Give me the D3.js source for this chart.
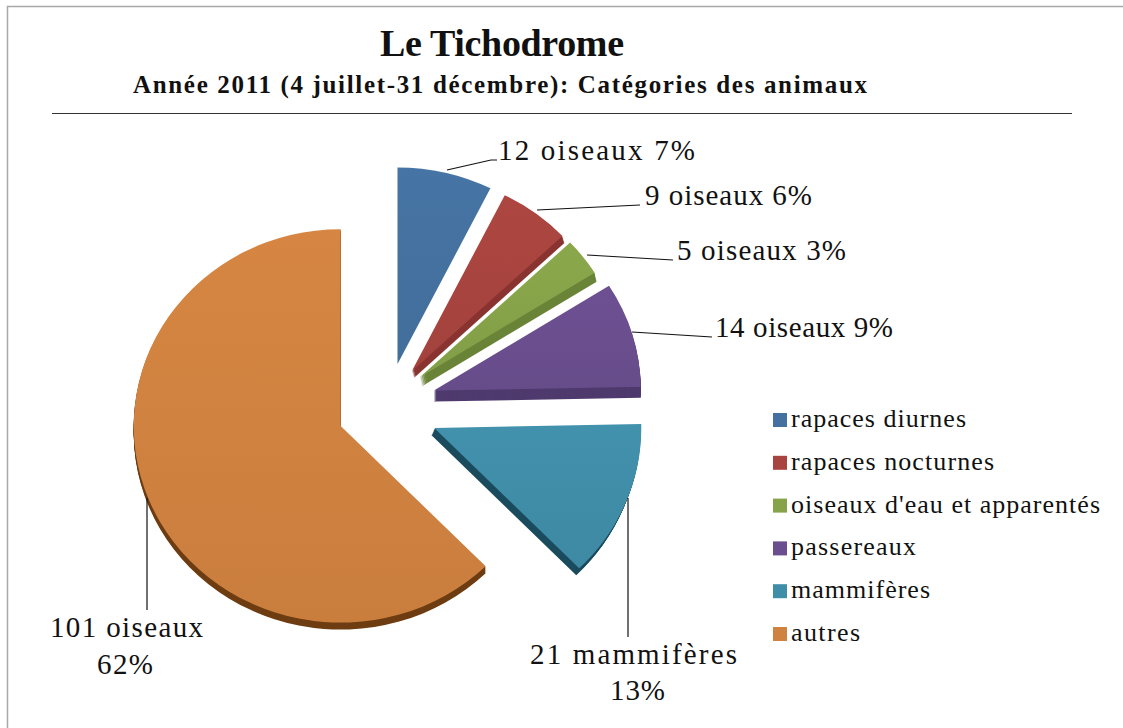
<!DOCTYPE html>
<html><head><meta charset="utf-8">
<script src="https://cdnjs.cloudflare.com/ajax/libs/d3/7.8.5/d3.min.js"></script>
<style>html,body{margin:0;padding:0;background:#fff}svg{display:block}text{font-family:"Liberation Serif",serif;fill:#111}</style>
</head><body><svg id="c" width="1123" height="728"></svg>
<script>
const categories=["rapaces diurnes","rapaces nocturnes","oiseaux d'eau et apparentés","passereaux","mammifères","autres"];
const counts=[12,9,5,14,21,101];
const topColors=["#44719f","#a8443f","#86a349","#6a4e8e","#408da8","#d08240"];
const sideColors=["#44719f","#8a3431","#6a8438","#4f3a6e","#1b4c5e","#6e3d12"];
const depthX=[0,2,2,0,-3,0];
const depthY=[0,7,9,11,7,7];
const nudgeX=[-1,-5,-7,-1,1,0];
const nudgeY=[-3,-3,-4,-4,3,1];
const labels=[["12 oiseaux 7%"],["9 oiseaux 6%"],["5 oiseaux 3%"],["14 oiseaux 9%"],["21 mammifères","13%"],["101 oiseaux","62%"]];

const svg=d3.select("#c");
svg.append("rect").attr("x",7.5).attr("y",6.5).attr("width",1130).attr("height",740).attr("fill","#fff").attr("stroke","#a8a8a8").attr("stroke-width",1.5);

function fit(sel,x,y,w,size,weight){
  sel.attr("x",x).attr("y",y).attr("font-size",size).attr("font-weight",weight||"normal")
     .attr("textLength",w).attr("lengthAdjust","spacing");
}
fit(svg.append("text").text("Le Tichodrome"),380,56,244,38,"bold");
fit(svg.append("text").text("Année 2011 (4 juillet-31 décembre): Catégories des animaux"),133,93,734,25,"bold");
svg.append("line").attr("x1",52).attr("x2",1072).attr("y1",113.5).attr("y2",113.5).attr("stroke","#333").attr("stroke-width",1.2);

const R=207, squash=0.95, cx=387, cy=406, explode=50;
const pie=d3.pie().sort(null).value(d=>d)(counts);
const arc=d3.arc().innerRadius(0).outerRadius(R);
const defs=svg.append("defs");
const g=svg.append("g");
pie.forEach((p,i)=>{
  const mid=(p.startAngle+p.endAngle)/2;
  const c=Math.cos(mid), k=c>0?0.8:1;
  const ax=cx+explode*Math.sin(mid)+nudgeX[i], ay=cy-explode*c*k+nudgeY[i];
  const grad=defs.append("linearGradient").attr("id","g"+i).attr("x1",0).attr("y1",0).attr("x2",0).attr("y2",1);
  grad.append("stop").attr("offset",0).attr("stop-color",d3.color(topColors[i]).brighter(0.08));
  grad.append("stop").attr("offset",1).attr("stop-color",d3.color(topColors[i]).darker(0.08));
  const s=g.append("g");
  for(let d=depthY[i];d>=1;d--){
    const f=d/depthY[i];
    s.append("path").attr("d",arc(p)).attr("fill",sideColors[i])
      .attr("transform",`translate(${ax+depthX[i]*f},${ay+d}) scale(1,${squash})`);
  }
  s.append("path").attr("d",arc(p)).attr("fill",`url(#g${i})`)
    .attr("transform",`translate(${ax},${ay}) scale(1,${squash})`);
});

const leaders=[[[447,170],[491,160],[497,160]],[[537,210],[640,205]],[[587,255],[673,260]],[[632,332],[712,337]],[[628,498],[628,637]],[[147,498],[147,610]]];
const line=d3.line();
leaders.forEach(l=>svg.append("path").attr("d",line(l)).attr("fill","none").attr("stroke","#111").attr("stroke-width",1.2));

const labelBoxes=[[[498,160,197]],[[645,205,167]],[[677,260,169]],[[715,337,178]],[[530,664,207],[610,700,55]],[[50,637,153],[97,674,56]]];
labels.forEach((ls,i)=>ls.forEach((t,j)=>{
  const b=labelBoxes[i][j];
  fit(svg.append("text").text(t),b[0],b[1],b[2],29);
}));

const legendWidths=[175,203,309,125,139,69];
const legendY=d3.scalePoint().domain(categories).range([420,634]);
categories.forEach((c,i)=>{
  const y=legendY(c);
  svg.append("rect").attr("x",773).attr("y",y-7).attr("width",14).attr("height",14).attr("fill",topColors[i]);
  fit(svg.append("text").text(c),791,y+7,legendWidths[i],26);
});
</script></body></html>
